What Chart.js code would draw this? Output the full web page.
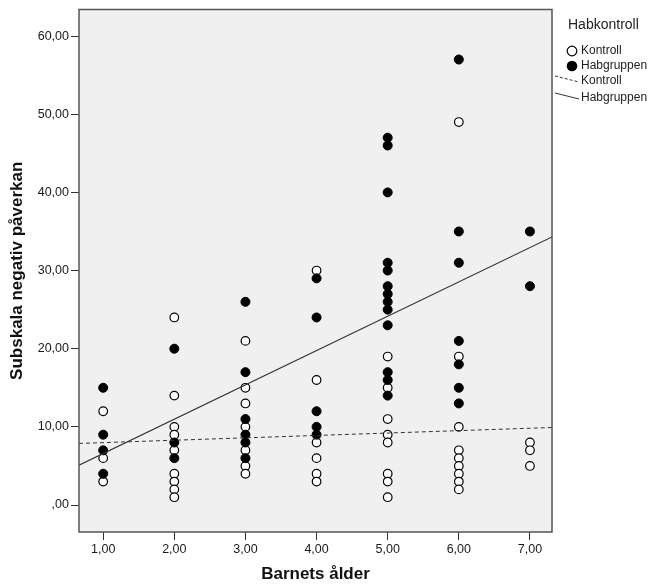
<!DOCTYPE html>
<html lang="sv">
<head>
<meta charset="UTF-8" />
<title>Subskala negativ påverkan</title>
<style>
  html, body { margin: 0; padding: 0; background: #fff; }
  #wrap { width: 654px; height: 585px; position: relative; }
</style>
</head>
<body>
<div id="wrap"><canvas id="chart" width="654" height="585"></canvas></div>
<script src="https://cdn.jsdelivr.net/npm/chart.js@4.4.2/dist/chart.umd.min.js"></script>
<script>
// Kontroll group (open circles): age, score
const kontrollAge = [
  1, 1, 1,
  2, 2, 2, 2, 2, 2, 2, 2, 2,
  3, 3, 3, 3, 3, 3, 3,
  4, 4, 4, 4, 4, 4,
  5, 5, 5, 5, 5, 5, 5, 5,
  6, 6, 6, 6, 6, 6, 6, 6, 6,
  7, 7, 7
];
const kontrollScore = [
  12, 6, 3,
  24, 14, 10, 9, 7, 4, 3, 2, 1,
  21, 15, 13, 10, 7, 5, 4,
  30, 16, 8, 6, 4, 3,
  19, 15, 11, 9, 8, 4, 3, 1,
  49, 19, 10, 7, 6, 5, 4, 3, 2,
  8, 7, 5
];

// Habgruppen (filled circles)
const habAge = [
  1, 1, 1, 1,
  2, 2, 2,
  3, 3, 3, 3, 3, 3,
  4, 4, 4, 4, 4,
  5, 5, 5, 5, 5, 5, 5, 5, 5, 5, 5, 5, 5,
  6, 6, 6, 6, 6, 6, 6,
  7, 7
];
const habScore = [
  15, 9, 7, 4,
  20, 8, 6,
  26, 17, 11, 9, 8, 6,
  29, 24, 12, 10, 9,
  47, 46, 40, 31, 30, 28, 27, 26, 25, 23, 17, 16, 14,
  57, 35, 31, 21, 18, 15, 13,
  35, 28
];

// fit lines, read at the left and right edge of the plot
const fitAge = [0.66, 7.31];
const kontrollFit = [7.88, 9.92];
const habFit = [5.1, 34.3];

const xTicks = [1, 2, 3, 4, 5, 6, 7];
const yTicks = [0, 10, 20, 30, 40, 50, 60];

const toPoints = (xs, ys) => xs.map((x, i) => ({ x, y: ys[i] }));
const fmt = (v) => (v === 0 ? ",00" : v.toFixed(2).replace(".", ","));

const FONT = "'Liberation Sans', Arial, sans-serif";

const plotFrame = {
  id: "plotFrame",
  beforeDatasetsDraw(chart) {
    const { ctx, chartArea: a } = chart;
    ctx.save();
    ctx.fillStyle = "#f0f0f0";
    ctx.fillRect(a.left, a.top, a.right - a.left, a.bottom - a.top);
    ctx.restore();
  },
  afterDraw(chart) {
    const { ctx, chartArea: a } = chart;
    ctx.save();
    ctx.strokeStyle = "#555";
    ctx.lineWidth = 1.5;
    ctx.strokeRect(a.left, a.top, a.right - a.left, a.bottom - a.top);

    // legend on the right
    ctx.fillStyle = "#222";
    ctx.textBaseline = "middle";
    ctx.textAlign = "left";
    ctx.font = "14px " + FONT;
    ctx.fillText("Habkontroll", 568, 25);

    ctx.font = "12px " + FONT;
    ctx.lineWidth = 1.2;
    ctx.strokeStyle = "#000";
    ctx.beginPath();
    ctx.arc(572, 51, 4.8, 0, Math.PI * 2);
    ctx.fillStyle = "#fff";
    ctx.fill();
    ctx.stroke();
    ctx.beginPath();
    ctx.arc(572, 66, 5.3, 0, Math.PI * 2);
    ctx.fillStyle = "#000";
    ctx.fill();

    ctx.strokeStyle = "#333";
    ctx.lineWidth = 1;
    ctx.setLineDash([3, 2]);
    ctx.beginPath();
    ctx.moveTo(555, 76);
    ctx.lineTo(579, 82);
    ctx.stroke();
    ctx.setLineDash([]);
    ctx.beginPath();
    ctx.moveTo(555, 93);
    ctx.lineTo(579, 99);
    ctx.stroke();

    ctx.fillStyle = "#222";
    ctx.fillText("Kontroll", 581, 51);
    ctx.fillText("Habgruppen", 581, 66);
    ctx.fillText("Kontroll", 581, 81);
    ctx.fillText("Habgruppen", 581, 98);
    ctx.restore();
  },
};

new Chart(document.getElementById("chart"), {
  type: "scatter",
  data: {
    datasets: [
      {
        type: "line",
        label: "Kontroll",
        data: toPoints(fitAge, kontrollFit),
        borderColor: "#333",
        borderWidth: 1,
        borderDash: [4, 3],
        pointRadius: 0,
        order: 0,
      },
      {
        type: "line",
        label: "Habgruppen",
        data: toPoints(fitAge, habFit),
        borderColor: "#333",
        borderWidth: 1.2,
        pointRadius: 0,
        order: 0,
      },
      {
        label: "Kontroll",
        data: toPoints(kontrollAge, kontrollScore),
        backgroundColor: "#fff",
        borderColor: "#000",
        borderWidth: 1.2,
        pointRadius: 4.3,
        order: 2,
      },
      {
        label: "Habgruppen",
        data: toPoints(habAge, habScore),
        backgroundColor: "#000",
        borderColor: "#000",
        borderWidth: 1,
        pointRadius: 4.5,
        order: 1,
      },
    ],
  },
  options: {
    responsive: false,
    animation: false,
    layout: { padding: { top: 8, right: 102, bottom: 0, left: 0 } },
    plugins: { legend: { display: false }, tooltip: { enabled: false } },
    scales: {
      x: {
        type: "linear",
        min: 0.66,
        max: 7.31,
        afterBuildTicks: (s) => { s.ticks = xTicks.map((value) => ({ value })); },
        afterFit: (s) => { s.height = 53; },
        border: { display: false },
        grid: { drawOnChartArea: false, drawTicks: true, tickLength: 8, color: "#333" },
        ticks: { color: "#1a1a1a", padding: 2, font: { family: FONT, size: 12.5 }, callback: fmt, maxRotation: 0 },
        title: {
          display: true,
          text: "Barnets ålder",
          color: "#111",
          font: { family: FONT, size: 17, weight: "bold" },
          padding: { top: 0, bottom: 0 },
        },
      },
      y: {
        type: "linear",
        min: -3.45,
        max: 63.4,
        afterBuildTicks: (s) => { s.ticks = yTicks.map((value) => ({ value })); },
        afterFit: (s) => { s.width = 79; },
        border: { display: false },
        grid: { drawOnChartArea: false, drawTicks: true, tickLength: 8, color: "#333" },
        ticks: { color: "#1a1a1a", padding: 2, font: { family: FONT, size: 12.5 }, callback: fmt },
        title: {
          display: true,
          text: "Subskala negativ påverkan",
          color: "#111",
          font: { family: FONT, size: 17, weight: "bold" },
          padding: { top: 7, bottom: 0 },
        },
      },
    },
  },
  plugins: [plotFrame],
});
</script>
</body>
</html>
